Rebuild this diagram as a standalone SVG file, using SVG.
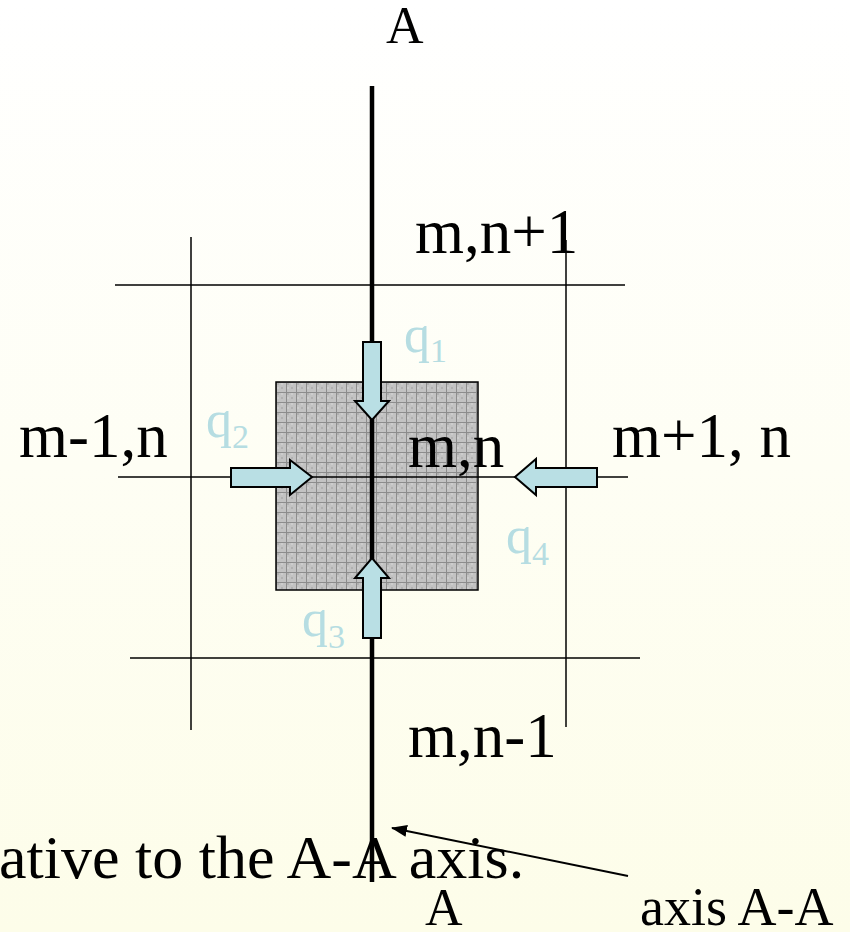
<svg xmlns="http://www.w3.org/2000/svg" width="850" height="932" viewBox="0 0 850 932">
<defs>
<linearGradient id="bg" x1="0" y1="0" x2="0" y2="1">
<stop offset="0" stop-color="#ffffff"/>
<stop offset="1" stop-color="#fdfde9"/>
</linearGradient>
<pattern id="mesh" x="276" y="382" width="10" height="10" patternUnits="userSpaceOnUse">
<rect width="10" height="10" fill="#c2c2c2"/>
<rect x="1" y="1" width="2" height="2" fill="#b0b0b0"/>
<rect x="5" y="5" width="2" height="2" fill="#b0b0b0"/>
<rect x="5" y="1" width="2" height="2" fill="#cdcdcd"/>
<rect x="1" y="5" width="2" height="2" fill="#cdcdcd"/>
<rect x="0" y="0" width="10" height="1" fill="#8c8c8c"/>
<rect x="0" y="0" width="1" height="10" fill="#8c8c8c"/>
</pattern>
<marker id="ah" markerWidth="16" markerHeight="12" refX="15" refY="6" orient="auto" markerUnits="userSpaceOnUse">
<path d="M0,0 L16,6 L0,12 Z" fill="#000"/>
</marker>
<style>
.lbl{font-family:"Liberation Serif","Times New Roman",serif;fill:#000;}
.big{font-size:63px;}
.mid{font-size:52px;}
.q{font-family:"Liberation Serif","Times New Roman",serif;fill:#b6dde2;font-size:52px;}
.sub{font-size:34px;}
.grid{stroke:#000;stroke-width:1.5;fill:none;}
.arr{fill:#b9dfe4;stroke:#000;stroke-width:2;stroke-linejoin:miter;}
</style>
</defs>
<rect width="850" height="932" fill="url(#bg)"/>

<g id="cell">
<rect x="276" y="382" width="202" height="208" fill="url(#mesh)" stroke="#000" stroke-width="1.5"/>
</g>

<g id="connectors">
<line class="grid" x1="115" y1="285" x2="625" y2="285"/>
<line class="grid" x1="118" y1="477" x2="628" y2="477"/>
<line class="grid" x1="130" y1="658" x2="640" y2="658"/>
<line class="grid" x1="191" y1="237" x2="191" y2="730"/>
<line class="grid" x1="566" y1="240" x2="566" y2="727"/>
<line x1="372" y1="86" x2="372" y2="882" stroke="#000" stroke-width="4.5"/>
<line x1="628" y1="876" x2="392" y2="828" stroke="#000" stroke-width="2" marker-end="url(#ah)"/>
</g>

<g id="q1-arrow"><path class="arr" d="M363,342 H381 V401 H389 L372,420 L355,401 H363 Z"/></g>
<g id="q3-arrow"><path class="arr" d="M363,638 H381 V578 H389 L372,558 L355,578 H363 Z"/></g>
<g id="q2-arrow"><path class="arr" d="M231,468 V487 H290 V495 L312,477 L290,460 V468 Z"/></g>
<g id="q4-arrow"><path class="arr" d="M597,468 V487 H536 V495 L515,477 L536,459 V468 Z"/></g>

<g id="label-A-top"><text class="lbl mid" x="386" y="43">A</text></g>
<g id="label-mn1"><text class="lbl big" x="415" y="253">m,n+1</text></g>
<g id="label-m1n"><text class="lbl big" x="19" y="457">m-1,n</text></g>
<g id="label-mn"><text class="lbl big" x="408" y="467">m,n</text></g>
<g id="label-mp1n"><text class="lbl big" x="612" y="457">m+1, n</text></g>
<g id="label-mnm1"><text class="lbl big" x="408" y="757">m,n-1</text></g>

<g id="q1"><text class="q" x="404" y="352">q<tspan class="sub" dy="10">1</tspan></text></g>
<g id="q2"><text class="q" x="206" y="437">q<tspan class="sub" dy="11">2</tspan></text></g>
<g id="q3"><text class="q" x="302" y="636">q<tspan class="sub" dy="12">3</tspan></text></g>
<g id="q4"><text class="q" x="506" y="553">q<tspan class="sub" dy="12">4</tspan></text></g>

<g id="caption"><text class="lbl" x="-1" y="878" font-size="62">ative to the A-A axis.</text></g>
<g id="label-A-bottom"><text class="lbl mid" x="425" y="925">A</text></g>
<g id="label-axis"><text class="lbl" x="640" y="925" font-size="54">axis A-A</text></g>
</svg>
